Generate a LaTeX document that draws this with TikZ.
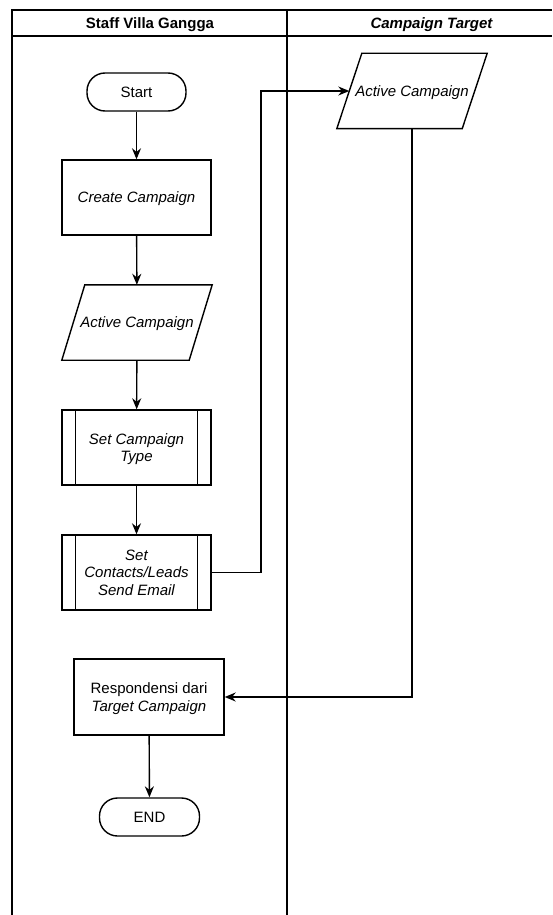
\documentclass[tikz,border=0pt]{standalone}
\usepackage{fontspec}
\setmainfont{Liberation Sans}
\usetikzlibrary{arrows.meta,calc}
\begin{document}
\begin{tikzpicture}[x=1pt,y=-1pt,
  every node/.style={font=\fontsize{15}{17.5}\selectfont, align=center, inner sep=0pt, text depth=-1pt},
  lane/.style={line width=1.5pt},
  boxline/.style={line width=1.4pt},
  terminal/.style={boxline, draw, rounded corners=18pt, minimum width=99pt, minimum height=38pt},
  procbox/.style={boxline, draw, minimum width=149pt, minimum height=75pt},
  iobox/.style={minimum width=150pt, minimum height=75pt},
  arr/.style={boxline, -{Stealth[length=11pt,width=9pt]}}
]
\useasboundingbox (0,0) rectangle (552,915);

% swimlane frame
\draw[lane] (12,915) -- (12,10) -- (552,10);
\draw[lane] (12,36) -- (552,36);
\draw[lane] (287,10) -- (287,915);
\node[font=\bfseries\fontsize{15}{17}\selectfont] (laneA) at (150,23) {Staff Villa Gangga};
\node[font=\bfseries\itshape\fontsize{15}{17}\selectfont] (laneB) at (431.5,23) {Campaign Target};

% left lane
\node[terminal] (start) at (136.5,92) {Start};
\node[procbox] (create) at (136.5,197.5) {\itshape Create Campaign};
\node[iobox] (ac1) at (137,322.5) {\itshape Active Campaign};
\draw[boxline] ([xshift=23pt]ac1.north west) -- (ac1.north east)
  -- ([xshift=-23pt]ac1.south east) -- (ac1.south west) -- cycle;
\node[procbox] (type) at (136.5,447.5) {\itshape Set Campaign\\\itshape Type};
\node[procbox] (contacts) at (136.5,572.5) {\itshape Set\\\itshape Contacts/Leads\\\itshape Send Email};
\foreach \n in {type,contacts}{
  \draw[boxline] ([xshift=14pt]\n.north west) -- ([xshift=14pt]\n.south west)
    ([xshift=-14pt]\n.north east) -- ([xshift=-14pt]\n.south east);
}
\node[procbox, minimum width=150pt, minimum height=76pt] (resp) at (149,697) {Respondensi dari\\\itshape Target Campaign};
\node[terminal, minimum width=100pt] (endn) at (149.5,817) {END};

% right lane
\node[iobox] (ac2) at (412,91) {\itshape Active Campaign};
\draw[boxline] ([xshift=25pt]ac2.north west) -- (ac2.north east)
  -- ([xshift=-25pt]ac2.south east) -- (ac2.south west) -- cycle;
\coordinate (ac2in) at ([xshift=12.5pt]ac2.west);
\coordinate (bend) at (261,0);

% flow
\draw[arr] (start) -- (create);
\draw[arr] (create) -- (ac1);
\draw[arr] (ac1) -- (type);
\draw[arr] (type) -- (contacts);
\draw[arr] (contacts.east) -| (bend |- ac2in) -- (ac2in);
\draw[arr] (ac2.south) |- (resp.east);
\draw[arr] (resp) -- (endn);
\end{tikzpicture}
\end{document}
